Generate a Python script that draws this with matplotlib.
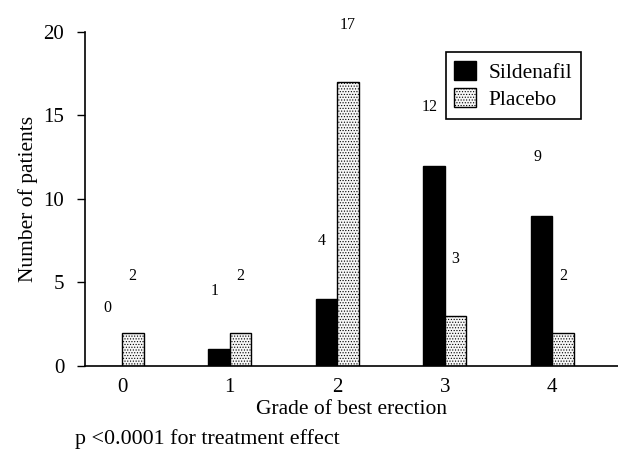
import matplotlib
matplotlib.use("Agg")
import matplotlib.pyplot as plt
import numpy as np

grades = [0, 1, 2, 3, 4]
sildenafil = [0, 1, 4, 12, 9]
placebo = [2, 2, 17, 3, 2]

plt.rcParams['font.family'] = ['Liberation Serif', 'DejaVu Serif']
plt.rcParams['hatch.color'] = '#9a9a9a'
plt.rcParams['hatch.linewidth'] = 0.5

fig = plt.figure(figsize=(6.18, 4.5), dpi=100)
ax = fig.add_axes([0.1375, 0.1867, 0.8625, 0.7422])

x = np.array(grades)
w = 0.2
b1 = ax.bar(x - w / 2, sildenafil, w, color='black', edgecolor='black',
            linewidth=1, label='Sildenafil')
b2 = ax.bar(x + w / 2, placebo, w, color='#f6f6f6', edgecolor='black',
            linewidth=1, hatch='......', label='Placebo')

# value labels floating above bars
for xi, v in zip(x, sildenafil):
    ax.text(xi - w / 2 - 0.04, v + 3.5, str(v), ha='center', va='center',
            fontsize=11.5, clip_on=False)
for xi, v in zip(x, placebo):
    ax.text(xi + w / 2, v + 3.4, str(v), ha='center', va='center',
            fontsize=11.5, clip_on=False)

ax.set_xlim(-0.344, 4.61)
ax.set_ylim(0, 20)
ax.set_yticks([0, 5, 10, 15, 20])
ax.set_xticks(grades)
ax.tick_params(axis='y', direction='out', length=6, width=1, labelsize=15, pad=9)
ax.tick_params(axis='x', length=0, labelsize=15, pad=9)
ax.spines['top'].set_visible(False)
ax.spines['right'].set_visible(False)
ax.spines['left'].set_linewidth(1.2)
ax.spines['bottom'].set_linewidth(1.2)

ax.set_ylabel('Number of patients', fontsize=15.5, labelpad=4)
ax.set_xlabel('Grade of best erection', fontsize=15.5, labelpad=2)

leg = ax.legend(loc='upper left', bbox_to_anchor=(0.677, 0.94), fancybox=False,
                edgecolor='black', fontsize=15.5, handlelength=1.0,
                handleheight=1.0, handletextpad=0.6, borderpad=0.4,
                labelspacing=0.25, framealpha=1, borderaxespad=0)
leg.get_frame().set_linewidth(1.2)

fig.text(0.121, 0.025, 'p <0.0001 for treatment effect', fontsize=15.8, va='center')

fig.savefig('out.png', dpi=100)
